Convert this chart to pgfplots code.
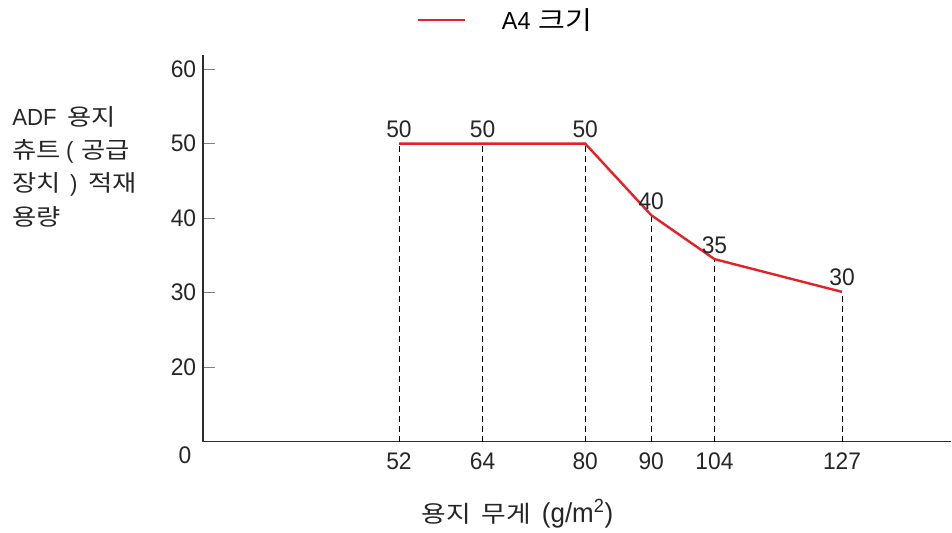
\documentclass[border=0pt]{standalone}
\usepackage{fontspec}
\setmainfont{Liberation Sans}[FakeStretch=0.95]
\newfontfamily\kr[FakeStretch=1.15]{Noto Sans CJK KR}
\newcommand\K[2]{{\kr\fontsize{#1}{#1}\selectfont #2}}
\newcommand\gap[1][8pt]{\hspace{#1}}
\usepackage{pgfplots}
\pgfplotsset{compat=1.18}
\definecolor{linered}{RGB}{230,32,38}
\definecolor{axisgray}{RGB}{45,45,45}

\begin{document}
\begin{tikzpicture}
\begin{axis}[
    at={(0pt,0pt)}, anchor=south west,
    scale only axis,
    width=561.75pt, height=290.25pt,
    xmin=203, xmax=952,
    ymin=10, ymax=61.9,
    axis x line=bottom, axis y line=left,
    axis line style={-, line width=1.1pt, color=axisgray},
    xtick={399.3,483,585.7,651.7,715,842.7},
    xticklabels={52,64,80,90,104,127},
    major x tick style={draw=none},
    ytick={20,30,40,50,60},
    tick align=inside,
    major tick length=9pt,
    major y tick style={gray, line width=0.8pt},
    tick label style={font=\fontsize{18}{20}\selectfont, color=black!85},
    xticklabel style={yshift=-4.5pt},
    yticklabel style={xshift=-1.5pt},
    /pgf/number format/assume math mode=true,
    clip=false,
    legend style={at={(axis description cs:0.2857,1.09)}, anchor=west, draw=none,
        font=\fontsize{18.5}{20}\selectfont, fill=none, inner sep=0pt},
    legend image code/.code={\draw[#1] (0pt,0pt) -- (35pt,0pt);},
    nodes near coords,
    point meta=explicit symbolic,
    every node near coord/.style={font=\fontsize{18}{20}\selectfont, color=black!85, anchor=south, inner sep=3.5pt},
]
\addplot[ycomb, black, line width=0.6pt, dash pattern=on 4.5pt off 3pt, forget plot,
    nodes near coords={}] coordinates {
    (399.3,50) (483,50) (585.7,50) (651.7,40.4) (715,34.5) (842.7,30.1)
};
\addplot[linered, line width=1.8pt] coordinates {
    (399.3,50) [50] (483,50) [50] (585.7,50) [50] (651.7,40.4) [40] (715,34.5) [35] (842.7,30.1) [30]
};
\addlegendentry{\hspace{25pt}A4\hspace{6pt}\K{19}{크기}}
\node[font=\fontsize{18}{20}\selectfont, color=black!85] at (axis description cs:-0.024,-0.034) {0};
\node[font=\fontsize{20.5}{22}\selectfont, color=black!85] at (axis description cs:0.4206,-0.185)
    {\K{17.5}{용지}\gap\K{17.5}{무게}\gap(g/m\textsuperscript{2})};
\node[font=\fontsize{17.5}{25}\selectfont, color=black!85, anchor=north west, align=left, inner sep=0pt]
    at (axis description cs:-0.255,0.868)
    {ADF\gap[8pt]\K{17.2}{용지}\\\K{17.2}{츄트}\gap[4pt](\gap[6pt]\K{17.2}{공급}\\\K{17.2}{장치}\gap[7pt])\gap[8pt]\K{17.2}{적재}\\\K{17.2}{용량}};
\end{axis}
\useasboundingbox (-152.25pt,-67.5pt) rectangle (561.75pt,331.5pt);
\end{tikzpicture}
\end{document}
